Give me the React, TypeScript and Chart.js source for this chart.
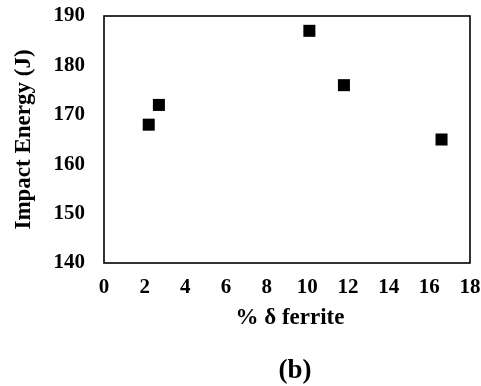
import React, { useEffect, useRef } from "react";
import { Chart, registerables } from "chart.js";

Chart.register(...registerables);

const ferrite = [2.2, 2.7, 10.1, 11.8, 16.6];
const impactEnergy = [168, 172, 187, 176, 165];
const xTitle = "% δ ferrite";
const yTitle = "Impact Energy (J)";
const caption = "(b)";

const FONT = "'Liberation Serif', 'Times New Roman', serif";

const decorPlugin = {
  id: "decor",
  afterDatasetsDraw(chart: any) {
    const { ctx, chartArea } = chart;
    const { left, right, top, bottom } = chartArea;
    ctx.save();
    ctx.strokeStyle = "#000";
    ctx.lineWidth = 1.6;
    ctx.strokeRect(left, top, right - left, bottom - top);

    ctx.fillStyle = "#000";
    ctx.textAlign = "center";
    ctx.textBaseline = "middle";
    // x title
    ctx.font = `bold 23px ${FONT}`;
    ctx.fillText(xTitle, (left + right) / 2 + 3, bottom + 55);
    // caption
    ctx.font = `bold 27px ${FONT}`;
    ctx.fillText(caption, (left + right) / 2 + 8, bottom + 108);
    // y title
    ctx.translate(24, (top + bottom) / 2);
    ctx.rotate(-Math.PI / 2);
    ctx.font = `bold 23px ${FONT}`;
    ctx.fillText(yTitle, 0, 0);
    ctx.restore();
  },
};

export default function App() {
  const ref = useRef<HTMLCanvasElement>(null);
  useEffect(() => {
    document.body.style.margin = "0";
    const chart = new Chart(ref.current!, {
      type: "scatter",
      data: {
        datasets: [
          {
            data: ferrite.map((x, i) => ({ x, y: impactEnergy[i] })),
            pointStyle: "rect",
            pointRadius: 8.5,
            pointHoverRadius: 8.5,
            backgroundColor: "#000",
            borderColor: "#000",
            borderWidth: 0,
          },
        ],
      },
      options: {
        animation: false,
        responsive: false,
        layout: { padding: { top: 16, right: 11, left: 0, bottom: 0 } },
        plugins: {
          legend: { display: false },
          tooltip: { enabled: false },
          title: { display: false },
        },
        scales: {
          x: {
            type: "linear",
            min: 0,
            max: 18,
            afterFit: (s: any) => {
              s.height = 123;
              s.paddingLeft = 0;
              s.paddingRight = 0;
            },
            ticks: { stepSize: 2, color: "#000", font: { family: FONT, size: 21, weight: "bold" }, padding: 12, maxRotation: 0 },
            grid: { display: false, drawTicks: false },
            border: { display: false },
          },
          y: {
            min: 140,
            max: 190,
            afterFit: (s: any) => {
              s.width = 104;
              s.paddingTop = 0;
              s.paddingBottom = 0;
            },
            ticks: { stepSize: 10, color: "#000", font: { family: FONT, size: 21, weight: "bold" }, padding: 19 },
            grid: { display: false, drawTicks: false },
            border: { display: false },
          },
        },
      },
      plugins: [decorPlugin],
    });
    return () => chart.destroy();
  }, []);
  return (
    <div style={{ width: 481, height: 386, background: "#fff" }}>
      <canvas ref={ref} width={481} height={386} />
    </div>
  );
}
